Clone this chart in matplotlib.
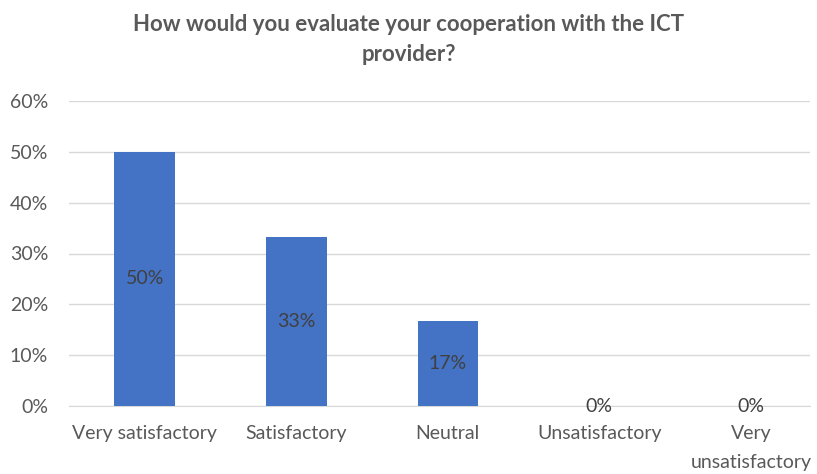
import matplotlib.pyplot as plt
from matplotlib.ticker import PercentFormatter

categories = ["Very satisfactory", "Satisfactory", "Neutral", "Unsatisfactory", "Very\nunsatisfactory"]
shares = [0.50, 0.333, 0.167, 0.0, 0.0]
labels = ["50%", "33%", "17%", "0%", "0%"]
yticks = [0, 0.1, 0.2, 0.3, 0.4, 0.5, 0.6]

BAR = "#4472C4"
TXT = "#595959"
GRID = "#D9D9D9"

plt.rcParams["font.family"] = ["Lato", "DejaVu Sans"]

fig = plt.figure(figsize=(8.17, 4.74), dpi=100)
ax = fig.add_axes([69 / 817, 1 - 406 / 474, (810 - 69) / 817, (406 - 101) / 474])

x = list(range(len(categories)))
ax.bar(x, shares, width=0.4, color=BAR, zorder=3)

for xi, v, lab in zip(x, shares, labels):
    ax.text(xi, v / 2, lab, ha="center", va="center", color="#404040", fontsize=14, zorder=4)

ax.set_xlim(-0.5, 4.39)
ax.set_ylim(0, 0.6)
ax.set_yticks(yticks)
ax.yaxis.set_major_formatter(PercentFormatter(1.0, decimals=0))
ax.set_xticks(x)
ax.set_xticklabels(categories, linespacing=1.8)
ax.tick_params(axis="both", length=0, colors=TXT, labelsize=14)
ax.tick_params(axis="x", pad=14)
ax.tick_params(axis="y", pad=15)

ax.grid(axis="y", color=GRID, linewidth=1, zorder=0)
for s in ["top", "right", "left"]:
    ax.spines[s].set_visible(False)
ax.spines["bottom"].set_color(GRID)

fig.suptitle("How would you evaluate your cooperation with the ICT\nprovider?",
             x=0.5, y=0.97, fontsize=16, fontweight="bold", color=TXT, linespacing=1.5)

fig.savefig("out.png", dpi=100)
